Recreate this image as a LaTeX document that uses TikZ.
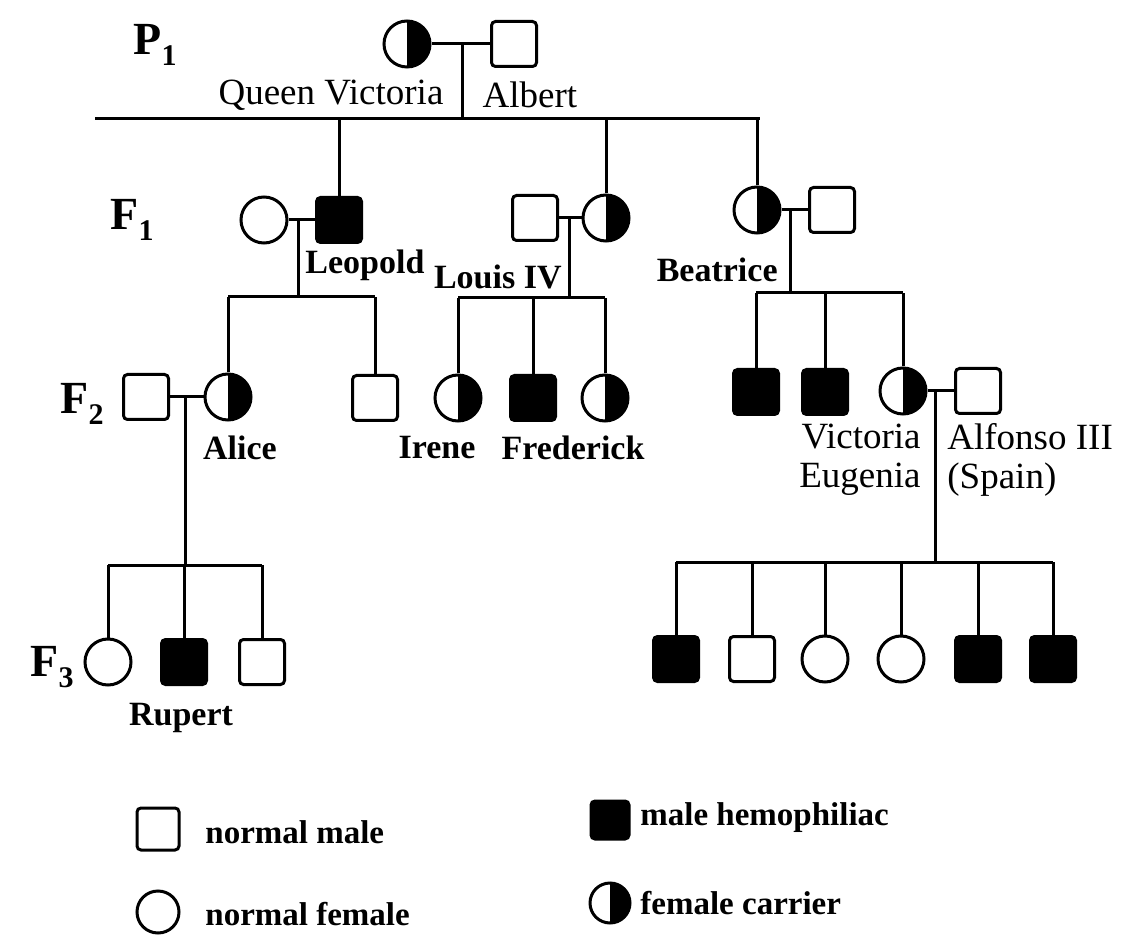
\documentclass[tikz,border=0pt]{standalone}
\usepackage{fontspec}
\setmainfont{Liberation Serif}
\begin{document}
\begin{tikzpicture}[x=0.5pt,y=-0.5pt]
	% Styles
	\tikzstyle{trait}=[line width=1.5pt]
	\tikzstyle{homme}=[draw,line width=1.5pt,rectangle,rounded corners=2pt,minimum size=22.5pt,inner sep=0pt]
	\tikzstyle{malade}=[homme,fill=black]
	\tikzstyle{femme}=[draw,line width=1.5pt,circle,minimum size=23pt,inner sep=0pt]
	\tikzstyle{porteuse}=[femme,path picture={\fill[black] (path picture bounding box.north) rectangle (path picture bounding box.south east);}]
	\tikzstyle{nom}=[inner sep=0pt,font=\fontsize{18.5}{19.5}\selectfont]
	\tikzstyle{nomgras}=[inner sep=0pt,font=\fontsize{17}{19}\selectfont\bfseries]
	\tikzstyle{generation}=[inner sep=0pt,font=\fontsize{23}{26}\selectfont\bfseries]
	\tikzstyle{legende}=[inner sep=0pt,anchor=west,font=\fontsize{16.5}{19}\selectfont\bfseries]
	% Indice des generations
	\def\Indice#1{\raisebox{-0.55ex}{\fontsize{15}{15}\selectfont #1}}
	\useasboundingbox (0,0) rectangle (1123,951);
	%
	% Generations
	\node[generation] (P1) at (155,45) {P\Indice{1}};
	\node[generation] (F1) at (132,220) {F\Indice{1}};
	\node[generation,anchor=east] (F2) at (104,404) {F\Indice{2}};
	\node[generation,anchor=east] (F3) at (74,667) {F\Indice{3}};
	%
	% Noeuds P1
	\node[porteuse] (QV) at (407,44) {};
	\node[homme] (Alb) at (514,44) {};
	\coordinate (mQV) at (462,44);
	\coordinate (fQVg) at (95,119);
	\coordinate (fQVd) at (760,119);
	\node[nom] (tQV) at (331,95) {Queen Victoria};
	\node[nom] (tAlb) at (530,95) {Albert};
	%
	% Noeuds F1
	\node[femme] (LeoF) at (264,220) {};
	\node[malade] (Leo) at (339,220) {};
	\node[homme] (Lou) at (535,218) {};
	\node[porteuse] (LouF) at (606,218) {};
	\node[porteuse] (Bea) at (757,210) {};
	\node[homme] (BeaH) at (832,210) {};
	\coordinate (mLeo) at (298,220);
	\coordinate (fLeog) at (228,297);
	\coordinate (fLeod) at (375,297);
	\coordinate (mLou) at (569,218);
	\coordinate (fLoug) at (458,298);
	\coordinate (fLoud) at (605,298);
	\coordinate (mBea) at (790,210);
	\coordinate (fBeag) at (756,293);
	\coordinate (fBead) at (903,293);
	\node[nomgras,anchor=west] (tLeo) at (305,265) {Leopold};
	\node[nomgras,anchor=east] (tLou) at (562,277) {Louis IV};
	\node[nomgras,anchor=east] (tBea) at (778,270) {Beatrice};
	%
	% Noeuds F2
	\node[homme] (AliH) at (146,397) {};
	\node[porteuse] (Ali) at (228,397) {};
	\node[homme] (LeoS) at (375,398) {};
	\node[porteuse] (Ire) at (458,398) {};
	\node[malade] (Fre) at (533,398) {};
	\node[porteuse] (LouD) at (605,398) {};
	\node[malade] (BeaSa) at (756,392) {};
	\node[malade] (BeaSb) at (825,392) {};
	\node[porteuse] (VE) at (903,391) {};
	\node[homme] (Alf) at (978,391) {};
	\coordinate (mAli) at (185,397);
	\coordinate (fAlig) at (108,565);
	\coordinate (fAlid) at (262,565);
	\coordinate (mVE) at (935,391);
	\coordinate (fVEg) at (676,562);
	\coordinate (fVEd) at (1053,562);
	\node[nomgras] (tAli) at (240,448) {Alice};
	\node[nomgras] (tIre) at (437,448) {Irene};
	\node[nomgras] (tFre) at (573,448) {Frederick};
	\node[nom,anchor=east,align=right] (tVE) at (921,460) {Victoria\\Eugenia};
	\node[nom,anchor=west,align=left] (tAlf) at (947,460) {Alfonso III\\(Spain)};
	%
	% Noeuds F3
	\node[femme] (AliA) at (108,662) {};
	\node[malade] (Rup) at (184,662) {};
	\node[homme] (AliC) at (262,662) {};
	\node[nomgras] (tRup) at (181,718) {Rupert};
	\node[malade] (VEa) at (676,659) {};
	\node[homme] (VEb) at (752,659) {};
	\node[femme] (VEc) at (825,659) {};
	\node[femme] (VEd) at (901,659) {};
	\node[malade] (VEe) at (978,659) {};
	\node[malade] (VEf) at (1053,659) {};
	%
	% Legende
	\node[homme,minimum size=21pt] (legH) at (158,829) {};
	\node[femme,minimum size=21pt] (legF) at (158,912) {};
	\node[malade,minimum size=19pt] (legM) at (610,820) {};
	\node[porteuse,minimum size=20pt] (legP) at (610,903) {};
	\node[legende] (tlegH) at (205,832) {normal male};
	\node[legende] (tlegF) at (205,914) {normal female};
	\node[legende] (tlegM) at (640,818) {male hemophiliac};
	\node[legende] (tlegP) at (640,903) {female carrier};
	%
	% Arcs
	\draw[trait] (QV.east)--(Alb.west);
	\draw[trait] (mQV)--(mQV |- fQVg);
	\draw[trait] (fQVg)--(fQVd);
	\draw[trait] (Leo.north)--(Leo.north |- fQVg);
	\draw[trait] (LouF.north)--(LouF.north |- fQVg);
	\draw[trait] (Bea.north)--(Bea.north |- fQVg);
	%
	\draw[trait] (LeoF.east)--(Leo.west);
	\draw[trait] (mLeo)--(mLeo |- fLeog);
	\draw[trait] (fLeog)--(fLeod);
	\draw[trait] (Ali.north)--(Ali.north |- fLeog);
	\draw[trait] (LeoS.north)--(LeoS.north |- fLeog);
	\draw[trait] (Lou.east)--(LouF.west);
	\draw[trait] (mLou)--(mLou |- fLoug);
	\draw[trait] (fLoug)--(fLoud);
	\draw[trait] (Ire.north)--(Ire.north |- fLoug);
	\draw[trait] (Fre.north)--(Fre.north |- fLoug);
	\draw[trait] (LouD.north)--(LouD.north |- fLoug);
	\draw[trait] (Bea.east)--(BeaH.west);
	\draw[trait] (mBea)--(mBea |- fBeag);
	\draw[trait] (fBeag)--(fBead);
	\draw[trait] (BeaSa.north)--(BeaSa.north |- fBeag);
	\draw[trait] (BeaSb.north)--(BeaSb.north |- fBeag);
	\draw[trait] (VE.north)--(VE.north |- fBeag);
	%
	\draw[trait] (AliH.east)--(Ali.west);
	\draw[trait] (mAli)--(mAli |- fAlig);
	\draw[trait] (fAlig)--(fAlid);
	\draw[trait] (AliA.north)--(AliA.north |- fAlig);
	\draw[trait] (Rup.north)--(Rup.north |- fAlig);
	\draw[trait] (AliC.north)--(AliC.north |- fAlig);
	\draw[trait] (VE.east)--(Alf.west);
	\draw[trait] (mVE)--(mVE |- fVEg);
	\draw[trait] (fVEg)--(fVEd);
	\draw[trait] (VEa.north)--(VEa.north |- fVEg);
	\draw[trait] (VEb.north)--(VEb.north |- fVEg);
	\draw[trait] (VEc.north)--(VEc.north |- fVEg);
	\draw[trait] (VEd.north)--(VEd.north |- fVEg);
	\draw[trait] (VEe.north)--(VEe.north |- fVEg);
	\draw[trait] (VEf.north)--(VEf.north |- fVEg);
\end{tikzpicture}
\end{document}
